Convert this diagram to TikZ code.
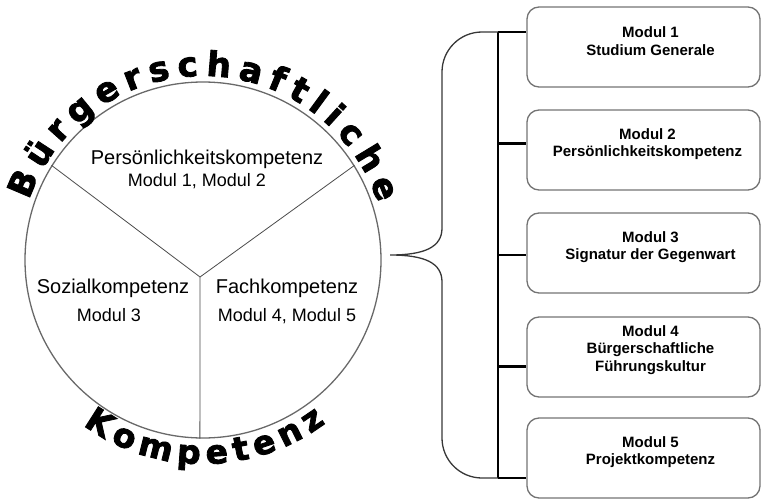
\documentclass[tikz,border=0pt]{standalone}
\usepackage{fontspec}
\setmainfont{Liberation Sans}
\newfontfamily\archfont{DejaVu Sans}[BoldFeatures={FakeBold=2.5}]
\usetikzlibrary{positioning,decorations.text}
\definecolor{rimgrey}{RGB}{105,105,105}
\definecolor{spokegrey}{RGB}{75,75,75}
\definecolor{boxgrey}{RGB}{115,115,115}
\definecolor{bracegrey}{RGB}{55,55,55}
\tikzset{
    wheel/.style={
        draw=rimgrey,
        line width=1.3pt,
        circle,
        inner sep=0pt,
        minimum size=356pt
    },
    spoke/.style={
        draw=spokegrey,
        line width=0.8pt
    },
    sectorhead/.style={
        font=\fontsize{20}{24}\selectfont
    },
    sectormod/.style={
        font=\fontsize{18}{22}\selectfont
    },
    modbox/.style={
        draw=boxgrey,
        line width=1.3pt,
        rounded corners=12pt,
        minimum width=233pt,
        minimum height=80pt
    },
    modtext/.style={
        font=\bfseries\fontsize{15}{17.5}\selectfont,
        align=center
    },
    bus/.style={line width=2.2pt},
    brace/.style={draw=bracegrey, line width=1.3pt}
}

\begin{document}
\begin{tikzpicture}[x=1pt,y=1pt]
\useasboundingbox (0,0) rectangle (762,499);

% Kreis mit drei Feldern
\node[wheel] (wheel) at (203,239) {};
\coordinate (hub) at (200,222);

\draw[spoke] (hub) -- (wheel.148);
\draw[spoke] (hub) -- (wheel.32);
\draw[spoke] (hub) -- (wheel.269);

\node[sectorhead] (pk) at (207,340) {Persönlichkeitskompetenz};
\node[sectormod] (pkmod) at (197,318) {Modul 1, Modul 2};

\node[sectorhead] (sk) at (113,211) {Sozialkompetenz};
\node[sectormod] (skmod) at (109,184) {Modul 3};

\node[sectorhead] (fk) at (287,211) {Fachkompetenz};
\node[sectormod] (fkmod) at (287,183) {Modul 4, Modul 5};

% Bogentexte
\path[decorate, decoration={text along path,
    text={|\archfont\bfseries\fontsize{34}{34}\selectfont|Bürgerschaftliche},
    text align={fit to path}}]
    ([shift={(161:184)}]wheel.center) arc[start angle=161, end angle=18, radius=184pt];

\path[decorate, decoration={text along path,
    text={|\archfont\bfseries\fontsize{33}{33}\selectfont|Kompetenz},
    text align={fit to path}}]
    ([shift={(234:204)}]wheel.center) arc[start angle=234, end angle=307, radius=204pt];


% ------------------------------------------------------------
% Module
% ------------------------------------------------------------

\node[modbox] (m1) at (643.5,452) {};
\node[modbox] (m2) at (643.5,349) {};
\node[modbox] (m3) at (643.5,246) {};
\node[modbox] (m4) at (643.5,142) {};
\node[modbox] (m5) at (643.5,41) {};

\node[modtext] (t1) at ([shift={(7,6)}]m1.center) {Modul 1\\Studium Generale};
\node[modtext] (t2) at ([shift={(4,6)}]m2.center) {Modul 2\\Persönlichkeitskompetenz};
\node[modtext] (t3) at ([shift={(7,6)}]m3.center) {Modul 3\\Signatur der Gegenwart};
\node[modtext] (t4) at ([shift={(7,7)}]m4.center) {Modul 4\\Bürgerschaftliche\\Führungskultur};
\node[modtext] (t5) at ([shift={(7,6)}]m5.center) {Modul 5\\Projektkompetenz};

% Leiste
\coordinate (tick1) at (498,467);
\coordinate (tick2) at (498,355.5);
\coordinate (tick3) at (498,244);
\coordinate (tick4) at (498,132.5);
\coordinate (tick5) at (498,21);

\draw[bus] (tick1) -- (tick5);
\draw[bus] (tick1) -- (tick1 -| m1.west);
\draw[bus] (tick2) -- (tick2 -| m2.west);
\draw[bus] (tick3) -- (tick3 -| m3.west);
\draw[bus] (tick4) -- (tick4 -| m4.west);
\draw[bus] (tick5) -- (tick5 -| m5.west);

% Klammer
\coordinate (tip) at (390,244);
\draw[brace] (tick1) -- (482,467) arc[start angle=90, end angle=180, radius=40]
    -- (442,271) .. controls (442,252) and (425,244) .. (tip)
    .. controls (425,244) and (442,236) .. (442,217)
    -- (442,61) arc[start angle=180, end angle=270, radius=40] -- (tick5);

\end{tikzpicture}
\end{document}
